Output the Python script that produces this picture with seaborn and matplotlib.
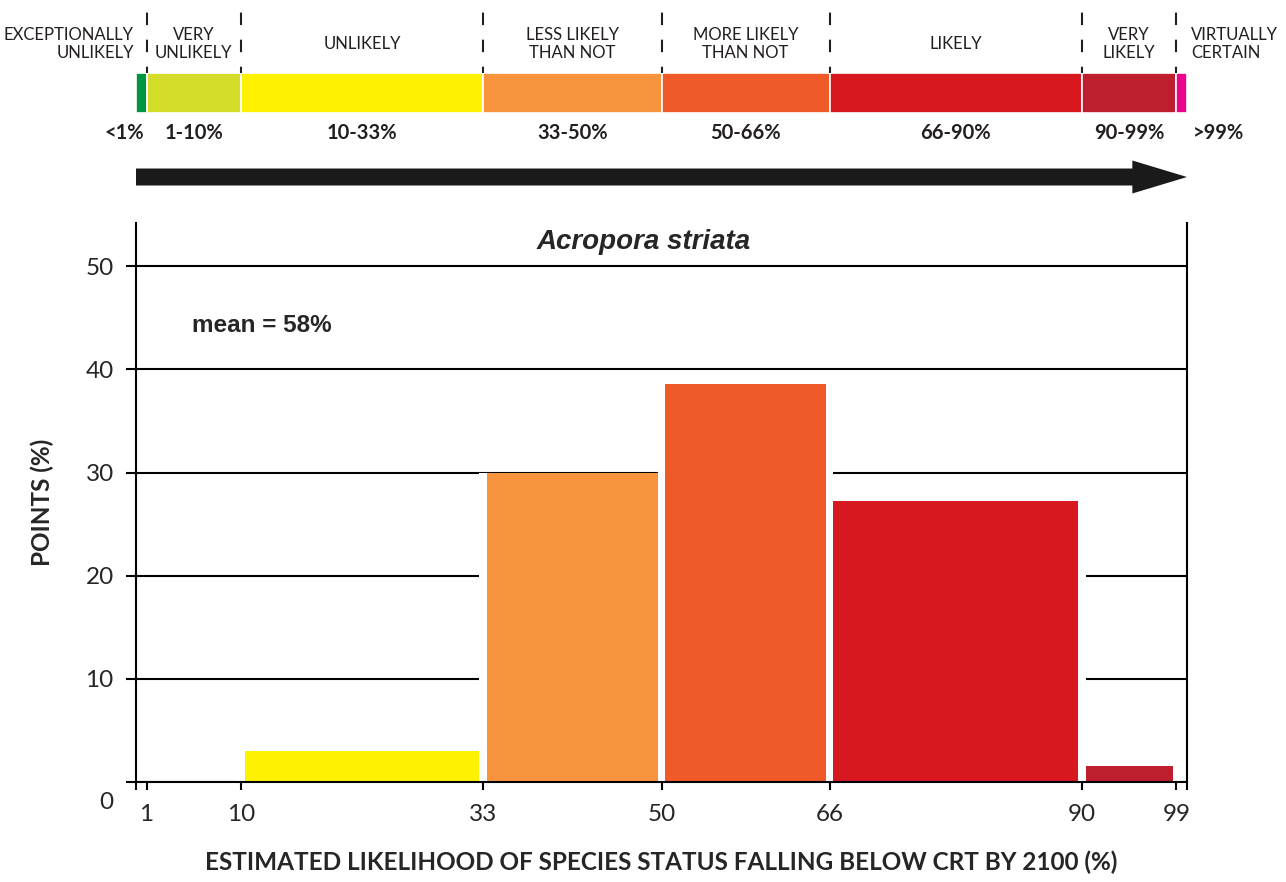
import numpy as np
import pandas as pd
import matplotlib
matplotlib.use('Agg')
import matplotlib.pyplot as plt
from matplotlib.patches import FancyArrow
import seaborn as sns

sns.set_style('white')
plt.rcParams['font.family'] = ['Lato', 'DejaVu Sans']

# likelihood bins (%), IPCC style
bin_lo = [0, 1, 10, 33, 50, 66, 90, 99]
bin_hi = [1, 10, 33, 50, 66, 90, 99, 100]
categories = ['EXCEPTIONALLY\nUNLIKELY', 'VERY\nUNLIKELY', 'UNLIKELY', 'LESS LIKELY\nTHAN NOT',
              'MORE LIKELY\nTHAN NOT', 'LIKELY', 'VERY\nLIKELY', 'VIRTUALLY\nCERTAIN']
range_labels = ['<1%', '1-10%', '10-33%', '33-50%', '50-66%', '66-90%', '90-99%', '>99%']
colors = ['#00963f', '#d4dd2a', '#fef200', '#f7943d', '#f05a28', '#d7191f', '#be1e2d', '#ec008c']

# share of points per bin (%)
points_pct = [0, 0, 3.0, 30.0, 38.6, 27.2, 1.55, 0]
mean_txt = 'mean = 58%'
species = 'Acropora striata'

xtick_pos = [0, 1, 10, 33, 50, 66, 90, 99, 100]
xtick_lab = ['', '1', '10', '33', '50', '66', '90', '99', '']
ytick_pos = [0, 10, 20, 30, 40, 50]

lo = np.array(bin_lo, dtype=float)
hi = np.array(bin_hi, dtype=float)
mid = (lo + hi) / 2
gap = 0.35

df = pd.DataFrame({'mid': mid, 'pct': points_pct, 'cat': categories})
edges = np.column_stack([lo + gap, hi - gap]).ravel().tolist()

W, H = 1286, 882
fig = plt.figure(figsize=(W / 100, H / 100), dpi=100)
ax = fig.add_axes([136 / W, 100 / H, 1051 / W, 559 / H])
ax_top = fig.add_axes([136 / W, 682 / H, 1051 / W, 200 / H])

# --- main histogram ---
# white halo under each bar hides the grid lines next to it
ax.bar(lo - gap, points_pct, width=hi - lo + 2 * gap, align='edge',
       color='white', linewidth=0, zorder=1)
n_halo = len(ax.patches)
sns.histplot(data=df, x='mid', weights='pct', hue='cat', hue_order=categories,
             palette=colors, bins=edges, multiple='layer', linewidth=0,
             legend=False, ax=ax, zorder=2)
for p in ax.patches[n_halo:]:
    p.set_alpha(1)

ax.set_xlim(0, 100)
ax.set_ylim(0, 54.2)
ax.set_axisbelow(True)
ax.yaxis.grid(True, color='black', linewidth=1.5)
ax.xaxis.grid(False)

for s in ['left', 'right', 'bottom']:
    ax.spines[s].set_visible(True)
    ax.spines[s].set_color('black')
    ax.spines[s].set_linewidth(1.5)
    ax.spines[s].set_zorder(3)
ax.spines['top'].set_visible(False)

ax.set_xticks(xtick_pos, labels=xtick_lab)
ax.set_yticks(ytick_pos, labels=[''] + [str(v) for v in ytick_pos[1:]])
ax.tick_params(axis='x', direction='out', length=6, width=1.5, color='black',
               labelsize=17.5, pad=10, bottom=True)
ax.tick_params(axis='y', direction='out', length=7, width=1.5, color='black',
               labelsize=17.5, pad=9, left=True)
ax.annotate('0', xy=(0, 0), xycoords='data', xytext=(-16.5, -14.5),
            textcoords='offset points', ha='right', va='center', fontsize=17.5)

ax.set_xlabel('ESTIMATED LIKELIHOOD OF SPECIES STATUS FALLING BELOW CRT BY 2100 (%)',
              fontsize=17.5, fontweight='bold', labelpad=18)
ax.set_ylabel('POINTS (%)', fontsize=17.5, fontweight='bold', labelpad=23)

ax.text(48.3, 52.4, species, ha='center', va='center', fontsize=20,
        fontweight='bold', fontstyle='italic', family=['Liberation Sans', 'DejaVu Sans'])
ax.text(5.3, 44.3, mean_txt, ha='left', va='center', fontsize=17.5,
        fontweight='bold', family=['Liberation Sans', 'DejaVu Sans'])

# --- likelihood scale on top ---
ax_top.set_xlim(0, 100)
ax_top.set_ylim(0, 10)
ax_top.axis('off')

ax_top.barh(5.35, hi - lo, left=lo, height=2.0, color=colors,
            edgecolor='white', linewidth=1.2)
ax_top.vlines(lo[1:], 6.35, 9.9, colors='#231f20', linewidth=1.5,
              linestyles=(3, (6, 7)))

for i, (cat, rl) in enumerate(zip(categories, range_labels)):
    if i == 0:
        x_c, x_r, ha = -0.2, 0.8, 'right'
    elif i == len(categories) - 1:
        x_c, x_r, ha = 100.4, 100.6, 'left'
    else:
        x_c = x_r = mid[i]
        ha = 'center'
    ax_top.text(x_c, 7.8, cat, ha=ha, va='center', fontsize=12,
                color='#231f20', linespacing=1.1, clip_on=False)
    ax_top.text(x_r, 3.35, rl, ha=ha, va='center', fontsize=14.5,
                fontweight='bold', color='#231f20', clip_on=False)

ax_top.add_patch(FancyArrow(0, 1.15, 100, 0, width=0.85, head_width=1.65,
                            head_length=5.2, length_includes_head=True,
                            color='#1a1a1a', linewidth=0))

fig.savefig('out.png', dpi=100)
